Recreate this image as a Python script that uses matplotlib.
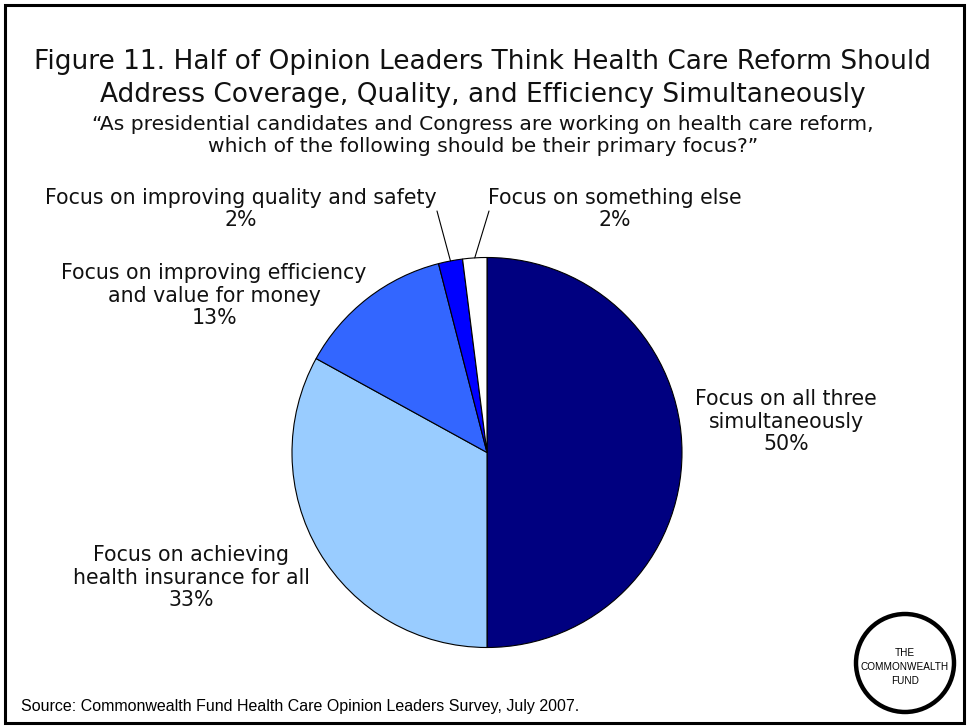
import matplotlib
matplotlib.use("Agg")
import matplotlib.pyplot as plt
import numpy as np
from matplotlib.patches import Rectangle, Circle

W, H = 967, 728

title_lines = ["Figure 11. Half of Opinion Leaders Think Health Care Reform Should",
               "Address Coverage, Quality, and Efficiency Simultaneously"]
subtitle_lines = ["\u201cAs presidential candidates and Congress are working on health care reform,",
                  "which of the following should be their primary focus?\u201d"]
categories = ["Focus on all three\nsimultaneously",
              "Focus on achieving\nhealth insurance for all",
              "Focus on improving efficiency\nand value for money",
              "Focus on improving quality and safety",
              "Focus on something else"]
values = [50, 33, 13, 2, 2]
colors = ["#000080", "#99CCFF", "#3366FF", "#0000FF", "#FFFFFF"]
source_text = "Source: Commonwealth Fund Health Care Opinion Leaders Survey, July 2007."
logo_lines = ["THE", "COMMONWEALTH", "FUND"]

fig = plt.figure(figsize=(W / 100, H / 100), dpi=100)
fig.patch.set_facecolor("white")

# overlay axes in pixel coordinates (y down)
ov = fig.add_axes([0, 0, 1, 1])
ov.set_xlim(0, W)
ov.set_ylim(H, 0)
ov.axis("off")

# pie axes
cx, cy, r = 487, 452.5, 195
pax = fig.add_axes([(cx - r) / W, (H - cy - r) / H, 2 * r / W, 2 * r / H])
wedges, _ = pax.pie(values, colors=colors, startangle=90, counterclock=False,
                    radius=1.0,
                    wedgeprops=dict(edgecolor="black", linewidth=0.8))
pax.set_xlim(-1, 1)
pax.set_ylim(-1, 1)
pax.set_aspect("equal")
pax.axis("off")

# border
ov.add_patch(Rectangle((5, 5), 959, 718, fill=False, edgecolor="black",
                       linewidth=2.2, zorder=10))

font = "DejaVu Sans"
for i, t in enumerate(title_lines):
    ov.text(483, 62 + i * 33, t, ha="center", va="center", fontsize=19,
            family=font, color="#111111")
for i, t in enumerate(subtitle_lines):
    ov.text(483, 124 + i * 22, t, ha="center", va="center", fontsize=14.6,
            family=font, color="#111111")

lab_fs = 14.8
label_pos = [(786, 399), (191, 555), (214, 273), (241, 198), (615, 198)]
line_gap = 22.5
for cat, v, (x, y) in zip(categories, values, label_pos):
    lines = cat.split("\n") + [f"{v}%"]
    for j, ln in enumerate(lines):
        ov.text(x, y + j * line_gap, ln, ha="center", va="center",
                fontsize=lab_fs, family=font, color="#111111")

# leader lines for small slices
leader_starts = {3: (437, 211), 4: (489, 211)}
for idx, (sx, sy) in leader_starts.items():
    w = wedges[idx]
    ang = np.deg2rad((w.theta1 + w.theta2) / 2)
    pax.annotate("", xy=(np.cos(ang), np.sin(ang)), xycoords="data",
                 xytext=(sx, H - sy), textcoords="figure pixels",
                 arrowprops=dict(arrowstyle="-", color="black", lw=0.8,
                                 shrinkA=0, shrinkB=0))

ov.text(21, 706, source_text, ha="left", va="center", fontsize=11.5,
        family="Liberation Sans", color="black")

# logo
ov.add_patch(Circle((905, 663), 49, fill=False, edgecolor="black",
                    linewidth=3.2, zorder=10))
for k, t in enumerate(logo_lines):
    ov.text(905, 653 + k * 14, t, ha="center", va="center", fontsize=7.2,
            family="Liberation Sans", color="black")

fig.savefig("out.png", dpi=100, facecolor="white")
